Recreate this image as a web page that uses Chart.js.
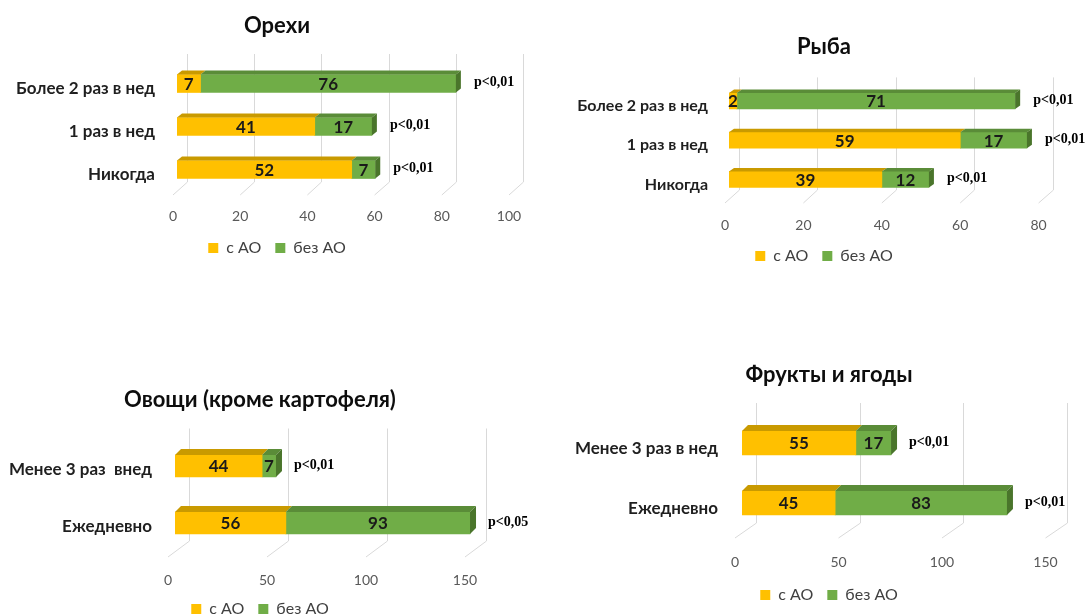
<!DOCTYPE html>
<html lang="ru">
<head>
<meta charset="utf-8">
<title>Частота потребления продуктов: с АО и без АО</title>
<script src="https://cdn.jsdelivr.net/npm/chart.js@4.4.1/dist/chart.umd.min.js"></script>
<style>
  html, body { margin: 0; padding: 0; background: #ffffff; }
  #board { position: relative; width: 1085px; height: 616px; overflow: hidden; background: #ffffff; }
  #board canvas { position: absolute; }
</style>
</head>
<body>
<div id="board">
  <canvas id="nuts"></canvas>
  <canvas id="fish"></canvas>
  <canvas id="veg"></canvas>
  <canvas id="fruit"></canvas>
</div>
<script>
// ---- data ----
const seriesNames = ['с АО', 'без АО'];

// Орехи
const nutsCategories = ['Более 2 раз в нед', '1 раз в нед', 'Никогда'];
const nutsWithAO = [7, 41, 52];
const nutsWithoutAO = [76, 17, 7];
const nutsP = ['p<0,01', 'p<0,01', 'p<0,01'];
const nutsAxisMax = 100, nutsAxisStep = 20;

// Рыба
const fishCategories = ['Более 2 раз в нед', '1 раз в нед', 'Никогда'];
const fishWithAO = [2, 59, 39];
const fishWithoutAO = [71, 17, 12];
const fishP = ['p<0,01', 'p<0,01', 'p<0,01'];
const fishAxisMax = 80, fishAxisStep = 20;

// Овощи (кроме картофеля)
const vegCategories = ['Менее 3 раз  внед', 'Ежедневно'];
const vegWithAO = [44, 56];
const vegWithoutAO = [7, 93];
const vegP = ['p<0,01', 'p<0,05'];
const vegAxisMax = 150, vegAxisStep = 50;

// Фрукты и ягоды
const fruitCategories = ['Менее 3 раз в нед', 'Ежедневно'];
const fruitWithAO = [55, 45];
const fruitWithoutAO = [17, 83];
const fruitP = ['p<0,01', 'p<0,01'];
const fruitAxisMax = 150, fruitAxisStep = 50;

// ---- styles ----
const SANS = 'Lato, "Open Sans", "Noto Sans", sans-serif';
const SERIF = '"Liberation Serif", "DejaVu Serif", serif';
const yellow = { front: '#FFC000', top: '#C99A00', side: '#B38700' };
const green  = { front: '#70AD47', top: '#5A8C38', side: '#4A752B' };

// oblique "3D" look: bar tops, bar end caps, back wall grid with floor lines
const depthPlugin = {
  id: 'depth3d',
  beforeDatasetsDraw(chart, args, o) {
    const { ctx, chartArea, scales: { x } } = chart;
    ctx.save();
    ctx.strokeStyle = '#d9d9d9';
    ctx.lineWidth = 1;
    x.ticks.forEach(t => {
      const px = x.getPixelForValue(t.value);
      const xb = Math.round(px + o.backDx) + 0.5;
      const xf = px + o.frontDx;
      ctx.beginPath();
      ctx.moveTo(xb, chartArea.top + o.wallTop);
      ctx.lineTo(xb, chartArea.bottom + o.backFloor);
      ctx.lineTo(xf, chartArea.bottom + o.frontFloor);
      ctx.stroke();
    });
    ctx.restore();
  },
  afterDatasetsDraw(chart, args, o) {
    const { ctx } = chart;
    const n = chart.data.labels.length;
    ctx.save();
    for (let i = 0; i < n; i++) {
      let last = null;
      chart.data.datasets.forEach((ds, di) => {
        const bar = chart.getDatasetMeta(di).data[i];
        if (!bar || !ds.data[i]) return;
        const { x, y, base, height } = bar.getProps(['x', 'y', 'base', 'height'], true);
        const x1 = Math.min(base, x), x2 = Math.max(base, x);
        const top = y - height / 2;
        ctx.fillStyle = ds.topColor;
        ctx.beginPath();
        ctx.moveTo(x1, top);
        ctx.lineTo(x2, top);
        ctx.lineTo(x2 + o.dx, top + o.dy);
        ctx.lineTo(x1 + o.dx, top + o.dy);
        ctx.closePath();
        ctx.fill();
        last = { x2, top, bottom: top + height, color: ds.sideColor };
      });
      if (last) {
        ctx.fillStyle = last.color;
        ctx.beginPath();
        ctx.moveTo(last.x2, last.top);
        ctx.lineTo(last.x2 + o.dx, last.top + o.dy);
        ctx.lineTo(last.x2 + o.dx, last.bottom + o.dy);
        ctx.lineTo(last.x2, last.bottom);
        ctx.closePath();
        ctx.fill();
      }
    }
    ctx.restore();
  },
  afterDraw(chart, args, o) {
    const { ctx, scales: { x } } = chart;
    const n = chart.data.labels.length;
    ctx.save();
    ctx.textBaseline = 'middle';
    // segment values
    ctx.fillStyle = '#1a1a1a';
    ctx.font = 'bold ' + o.valueFont + 'px ' + SANS;
    ctx.textAlign = 'center';
    chart.data.datasets.forEach((ds, di) => {
      chart.getDatasetMeta(di).data.forEach((bar, i) => {
        const v = ds.data[i];
        if (!v) return;
        const { x: xe, y, base } = bar.getProps(['x', 'y', 'base'], true);
        ctx.fillText(String(v), (xe + base) / 2, y + 1);
      });
    });
    // significance notes after each bar
    ctx.font = 'bold ' + o.pFont + 'px ' + SERIF;
    ctx.textAlign = 'left';
    ctx.fillStyle = '#000000';
    for (let i = 0; i < n; i++) {
      const total = chart.data.datasets.reduce((s, ds) => s + (ds.data[i] || 0), 0);
      const y = chart.getDatasetMeta(0).data[i].y;
      ctx.fillText(o.notes[i], x.getPixelForValue(total) + o.noteGap, y - 1);
    }
    ctx.restore();
  }
};

function makeChart(p) {
  const canvas = document.getElementById(p.id);
  canvas.width = p.w; canvas.height = p.h;
  canvas.style.left = p.left + 'px';
  canvas.style.top = p.top + 'px';
  canvas.style.width = p.w + 'px';
  canvas.style.height = p.h + 'px';

  return new Chart(canvas, {
    type: 'bar',
    data: {
      labels: p.categories,
      datasets: [
        { label: seriesNames[0], data: p.withAO, backgroundColor: yellow.front,
          topColor: yellow.top, sideColor: yellow.side, barThickness: p.bar, borderWidth: 0 },
        { label: seriesNames[1], data: p.withoutAO, backgroundColor: green.front,
          topColor: green.top, sideColor: green.side, barThickness: p.bar, borderWidth: 0 }
      ]
    },
    options: {
      indexAxis: 'y',
      responsive: false,
      animation: false,
      devicePixelRatio: 1,
      layout: { padding: p.pad },
      scales: {
        x: {
          stacked: true,
          min: 0, max: p.max,
          grid: { display: false, drawTicks: false },
          border: { display: false },
          ticks: { stepSize: p.step, color: '#595959', padding: p.tickPad,
                   labelOffset: p.tickOffset, maxRotation: 0,
                   font: { family: SANS, size: 14 } },
          afterFit(s) { s.height = p.xAxisH; }
        },
        y: {
          stacked: true,
          grid: { display: false, drawTicks: false },
          border: { display: false },
          ticks: { color: '#1f1f1f', padding: p.catPad, labelOffset: p.catOffset,
                   font: { family: SANS, size: p.catFont, weight: 'bold' } },
          afterFit(s) { s.width = p.yAxisW; }
        },
        // empty margin on the right that keeps room for the p-value notes
        yRight: {
          type: 'category', axis: 'y', position: 'right',
          grid: { display: false, drawTicks: false },
          border: { display: false },
          ticks: { display: false },
          afterFit(s) { s.width = p.rightW; }
        }
      },
      plugins: {
        title: {
          display: true, text: p.title, color: '#0d0d0d',
          font: { family: SANS, size: 22, weight: 'bold' },
          padding: p.titlePad
        },
        legend: {
          position: 'bottom',
          labels: { boxWidth: 10, boxHeight: 10, padding: 14, color: '#404040',
                    font: { family: SANS, size: 16 } }
        },
        tooltip: { enabled: false },
        depth3d: Object.assign({ notes: p.notes, valueFont: 17, pFont: 14, noteGap: 18 }, p.depth)
      }
    },
    plugins: [depthPlugin]
  });
}

const panels = [
  { id: 'nuts', left: 0, top: 0, w: 549, h: 270, title: 'Орехи',
    categories: nutsCategories, withAO: nutsWithAO, withoutAO: nutsWithoutAO, notes: nutsP,
    max: nutsAxisMax, step: nutsAxisStep,
    pad: { left: 5, right: 0, top: 0, bottom: 4 }, yAxisW: 172, rightW: 36, xAxisH: 35,
    titlePad: { top: 12.8, bottom: 22.8 }, bar: 18, tickPad: 16.6, tickOffset: -4,
    catPad: 22, catOffset: 5, catFont: 17,
    depth: { dx: 5, dy: -4, backDx: 10, frontDx: -4, wallTop: -8, backFloor: -9, frontFloor: 4 } },
  { id: 'fish', left: 545, top: 20, w: 540, h: 260, title: 'Рыба',
    categories: fishCategories, withAO: fishWithAO, withoutAO: fishWithoutAO, notes: fishP,
    max: fishAxisMax, step: fishAxisStep,
    pad: { left: 29, right: 11, top: 0, bottom: 6 }, yAxisW: 155, rightW: 31.4, xAxisH: 35,
    titlePad: { top: 13.8, bottom: 21.2 }, bar: 16, tickPad: 17.6, tickOffset: -4,
    catPad: 21, catOffset: 5, catFont: 16,
    depth: { dx: 5, dy: -3.5, backDx: 10, frontDx: -4, wallTop: -4, backFloor: -9, frontFloor: 4 } },
  { id: 'veg', left: 0, top: 375, w: 545, h: 260, title: 'Овощи (кроме картофеля)',
    categories: vegCategories, withAO: vegWithAO, withoutAO: vegWithoutAO, notes: vegP,
    max: vegAxisMax, step: vegAxisStep,
    pad: { left: 5, right: 30, top: 0, bottom: 8 }, yAxisW: 170, rightW: 43, xAxisH: 35.5,
    titlePad: { top: 11.8, bottom: 24.3 }, bar: 22, tickPad: 20.1, tickOffset: -7,
    catPad: 23, catOffset: 4, catFont: 17,
    depth: { dx: 6, dy: -6, backDx: 14, frontDx: -7, wallTop: -9, backFloor: -10.5, frontFloor: 5.5 } },
  { id: 'fruit', left: 545, top: 350, w: 548, h: 266, title: 'Фрукты и ягоды',
    categories: fruitCategories, withAO: fruitWithAO, withoutAO: fruitWithoutAO, notes: fruitP,
    max: fruitAxisMax, step: fruitAxisStep,
    pad: { left: 20, right: 0, top: 0, bottom: 3 }, yAxisW: 177, rightW: 40.5, xAxisH: 40,
    titlePad: { top: 11.8, bottom: 24.8 }, bar: 24, tickPad: 20.6, tickOffset: -7,
    catPad: 24, catOffset: 6, catFont: 17,
    depth: { dx: 6, dy: -6, backDx: 14, frontDx: -7, wallTop: -10, backFloor: -10, frontFloor: 5 } }
];

panels.forEach(makeChart);
</script>
</body>
</html>
